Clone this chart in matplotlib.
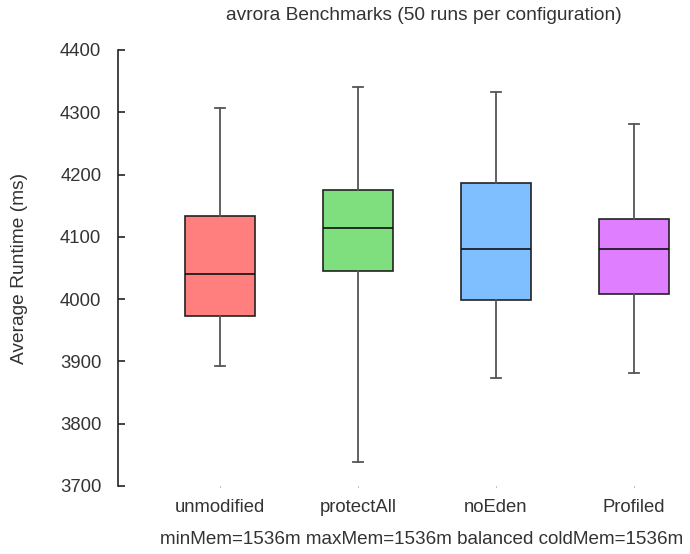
import matplotlib
matplotlib.use("Agg")
import matplotlib.pyplot as plt

plt.rcParams['font.family'] = ['Liberation Sans', 'DejaVu Sans']

categories = ["unmodified", "protectAll", "noEden", "Profiled"]
whisker_low = [3893, 3739, 3873, 3881]
q1 = [3973, 4045, 3999, 4009]
median = [4040, 4114, 4080, 4080]
q3 = [4134, 4175, 4186, 4129]
whisker_high = [4307, 4341, 4333, 4281]
colors = ["#ff7f7f", "#7fdf7f", "#7fbfff", "#df7fff"]
yticks = [3700, 3800, 3900, 4000, 4100, 4200, 4300, 4400]

W, H = 690, 554
fig = plt.figure(figsize=(W / 100, H / 100), dpi=100)
ax = fig.add_axes([118 / W, (H - 486) / H, (690 - 118) / W, 436 / H])

stats = []
for i, c in enumerate(categories):
    stats.append(dict(label=c, whislo=whisker_low[i], q1=q1[i], med=median[i],
                      q3=q3[i], whishi=whisker_high[i], fliers=[]))

bp = ax.bxp(stats, positions=range(1, len(categories) + 1), widths=0.51,
            patch_artist=True, showfliers=False,
            boxprops=dict(edgecolor="#222222", linewidth=1.2),
            medianprops=dict(color="#111111", linewidth=1.2),
            whiskerprops=dict(color="#555555", linewidth=1.3),
            capprops=dict(color="#555555", linewidth=1.3),
            capwidths=0.075)
for patch, col in zip(bp['boxes'], colors):
    patch.set_facecolor(col)

ax.set_xlim(1 - 102 / 138, 4 + 56 / 138)
ax.set_ylim(3700, 4400)
ax.set_yticks(yticks)
ax.set_yticklabels([str(v) for v in yticks])

for s in ['top', 'right', 'bottom']:
    ax.spines[s].set_visible(False)
ax.spines['left'].set_color("#222222")
ax.spines['left'].set_linewidth(1.2)

ax.tick_params(axis='y', direction='in', length=5, width=1.2, color="#222222",
               pad=12, labelsize=13.3, labelcolor="#333333")
ax.tick_params(axis='x', direction='out', length=1, width=0.8, color="#888888",
               pad=8, labelsize=13.3, labelcolor="#333333")

fig.text(423.5 / W, 1 - 15 / H, "avrora Benchmarks (50 runs per configuration)",
         ha='center', va='center', fontsize=13.8, color="#333333")
fig.text(20 / W, 1 - 268 / H, "Average Runtime (ms)", rotation=90,
         ha='center', va='center', fontsize=13.8, color="#333333")
fig.text(160 / W, 1 - 539 / H, "minMem=1536m maxMem=1536m balanced coldMem=1536m",
         ha='left', va='center', fontsize=13.55, color="#333333")

fig.savefig("out.png", dpi=100)
